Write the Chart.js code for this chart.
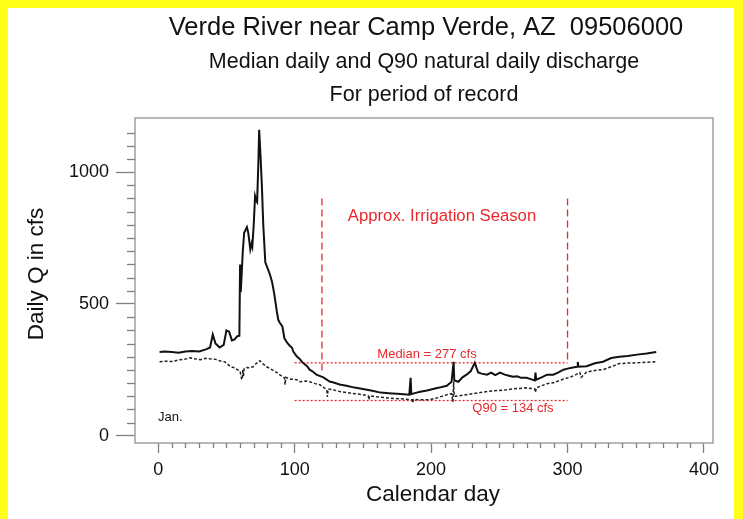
<!DOCTYPE html>
<html><head><meta charset="utf-8">
<script src="https://cdn.jsdelivr.net/npm/chart.js@4.4.1/dist/chart.umd.min.js"></script>
<style>html,body{margin:0;padding:0;background:#fff;} canvas{display:block;}</style>
</head><body>
<canvas id="c" width="743" height="519"></canvas>
<script>
// ---- data ----
const medianDays = [1,5,10,15,20,25,30,35,38,40,42,45,48,50,52,54,56,58,59.5,60,60.5,62,63,65,66,67.5,68.5,69,70,71,72,72.5,73.5,74,75,76,77,78.5,80.5,82,83.5,85,87,88,89,91,92.5,94.5,96.7,98,99,101.5,104,106,109,111,113.5,116,121,126,128,133,138,144,150,156,163,169,175,180,184,185,185.5,188,192,197,201.5,206,211.5,215,216.5,217,220,223,226,229,232,234.5,237,241,244,247,250.5,254,257,260,263,266,270,273,276,276.5,277,281,285,289.5,293,297,300,303,307,307.5,308,314,320,326,332,338,344,351,358,365];
const medianQ = [318,320,318,315,320,322,320,328,335,384,350,335,345,400,395,362,366,378,380,650,545,700,770,791,770,707,730,719,800,909,890,886,1050,1160,1060,947,800,658,631,610,582,540,470,440,430,415,370,353,340,335,320,302,290,277,265,251,243,232,222,205,203,195,190,183,178,172,164,162,160,158,156,220,158,162,167,172,178,183,190,205,281,210,205,222,232,245,277,240,236,232,240,230,240,232,228,224,226,220,220,215,210,240,213,222,232,232,240,251,255,258,262,280,262,264,275,281,295,300,303,308,312,318];
const q90Days = [1,5,10,16,20,23.5,27,31,35,38,42,45,49,53,56,58,60,61,61.5,62,62.5,63,65,67,69.5,72,74.5,77,79.5,83,87,90,92.5,93,93.5,97,101.5,104,108,111,115,118.5,121,123.5,124,124.5,128,133,138,144,150,154,154.5,155,160,167.5,173,180,186,186.5,187,192,199,205,211.5,215,216,216.5,217,221,226,231,236,241,245.5,250,255.5,260,265,270,276,276.5,277,281,285,289.5,294,300,303,306,309,310,314,320,326,332,338,344,351,358,365];
const q90Q = [281,283,282,289,291,296,292,289,294,292,290,285,280,262,258,251,245,218,213,250,225,255,259,258,262,275,285,272,262,252,240,228,220,194,222,215,213,205,208,205,198,194,185,175,148,178,175,168,164,160,156,152,137,152,148,144,142,140,137,125,138,137,137,145,156,160,129,205,150,152,156,160,164,168,171,172,175,178,180,182,178,165,182,190,198,201,210,220,225,232,240,222,242,248,251,262,274,276,277,279,281];
const xTickValues = [0,10,20,30,40,50,60,70,80,90,100,110,120,130,140,150,160,170,180,190,200,210,220,230,240,250,260,270,280,290,300,310,320,330,340,350,360,370,380,390,400];
const xTickLabels = ['0','100','200','300','400'];
const yTickValues = [0,50,100,150,200,250,300,350,400,450,500,550,600,650,700,750,800,850,900,950,1000,1050,1100,1150];
const yTickLabels = ['0','500','1000'];
const irrigationStart = 120, irrigationEnd = 300, irrigationTop = 900;
const irrigationStartBottom = 245;
const medianLevel = 277, q90Level = 134;
const levelFrom = 100, levelTo = 300;
const titleLines = ['Verde River near Camp Verde, AZ  09506000','Median daily and Q90 natural daily discharge','For period of record'];

const FONT = '"Liberation Sans", Arial, sans-serif';
const RED = '#e8282c';

const pts = (xs, ys) => xs.map((x, i) => ({x, y: ys[i]}));

const decor = {
  id: 'decor',
  beforeDraw(chart) {
    const c = chart.ctx;
    c.save();
    c.fillStyle = '#fff';
    c.fillRect(0, 0, chart.width, chart.height);
    c.fillStyle = '#ffff1a';
    c.fillRect(0, 0, chart.width, 8);
    c.fillRect(0, 0, 8, chart.height);
    c.fillRect(chart.width - 9, 0, 9, chart.height);
    c.restore();
  },
  afterDraw(chart) {
    const c = chart.ctx, a = chart.chartArea;
    const xs = chart.scales.x, ys = chart.scales.y;
    c.save();
    // frame
    c.strokeStyle = '#a0a0a0';
    c.lineWidth = 1.5;
    c.strokeRect(a.left, a.top, a.right - a.left, a.bottom - a.top);
    // minor ticks
    c.strokeStyle = '#808080';
    c.lineWidth = 1.3;
    xTickValues.forEach(v => {
      if (v % 100 === 0) return;
      const px = Math.round(xs.getPixelForValue(v)) + 0.5;
      c.beginPath(); c.moveTo(px, a.bottom); c.lineTo(px, a.bottom + 5); c.stroke();
    });
    yTickValues.forEach(v => {
      if (v % 500 === 0) return;
      const py = Math.round(ys.getPixelForValue(v)) + 0.5;
      c.beginPath(); c.moveTo(a.left, py); c.lineTo(a.left - 8, py); c.stroke();
    });
    // titles
    c.fillStyle = '#111';
    c.textAlign = 'center';
    c.textBaseline = 'middle';
    c.font = '25.5px ' + FONT;
    c.fillText(titleLines[0], 426, 28);
    c.font = '21.5px ' + FONT;
    c.fillText(titleLines[1], 424, 62);
    c.fillText(titleLines[2], 424, 95);
    // axis titles
    c.font = '22.5px ' + FONT;
    c.fillText('Calendar day', 433, 495);
    c.save();
    c.translate(37, 274);
    c.rotate(-Math.PI / 2);
    c.fillText('Daily Q in cfs', 0, 0);
    c.restore();
    // annotation texts
    c.fillStyle = RED;
    c.font = '16.7px ' + FONT;
    c.fillText('Approx. Irrigation Season', xs.getPixelForValue(208), 216);
    c.font = '13px ' + FONT;
    c.fillText('Median = 277 cfs', xs.getPixelForValue(197), ys.getPixelForValue(medianLevel) - 8);
    c.fillText('Q90 = 134 cfs', xs.getPixelForValue(260), ys.getPixelForValue(q90Level) + 8);
    c.fillStyle = '#111';
    c.textAlign = 'left';
    c.font = '13px ' + FONT;
    c.fillText('Jan.', 158, 417);
    c.restore();
  }
};

new Chart(document.getElementById('c'), {
  type: 'line',
  data: {
    datasets: [
      {data: pts(medianDays, medianQ), borderColor: '#111', borderWidth: 2, pointRadius: 0, tension: 0},
      {data: pts(q90Days, q90Q), borderColor: '#222', borderWidth: 1.5, borderDash: [3, 2], pointRadius: 0, tension: 0},
      {data: [{x: irrigationStart, y: irrigationTop}, {x: irrigationStart, y: irrigationStartBottom}], borderColor: RED, borderWidth: 1.3, borderDash: [7, 4], pointRadius: 0},
      {data: [{x: irrigationEnd, y: irrigationTop}, {x: irrigationEnd, y: medianLevel}], borderColor: RED, borderWidth: 1.3, borderDash: [7, 4], pointRadius: 0},
      {data: [{x: levelFrom, y: medianLevel}, {x: levelTo, y: medianLevel}], borderColor: RED, borderWidth: 1.3, borderDash: [2, 2], pointRadius: 0},
      {data: [{x: levelFrom, y: q90Level}, {x: levelTo, y: q90Level}], borderColor: RED, borderWidth: 1.3, borderDash: [2, 2], pointRadius: 0}
    ]
  },
  options: {
    responsive: false,
    animation: false,
    devicePixelRatio: 1,
    layout: {padding: {top: 118, right: 30, left: 0, bottom: 0}},
    plugins: {legend: {display: false}, tooltip: {enabled: false}, title: {display: false}},
    scales: {
      x: {
        type: 'linear', min: -17, max: 406.6,
        afterBuildTicks: s => { s.ticks = xTickValues.map(v => ({value: v})); },
        afterFit: s => { s.height = 76; },
        border: {display: false},
        grid: {drawOnChartArea: false, drawTicks: true, tickLength: 10, tickWidth: 1.3,
               tickColor: ctx => (ctx.tick && ctx.tick.value % 100 === 0) ? '#808080' : 'rgba(0,0,0,0)'},
        ticks: {autoSkip: false, maxRotation: 0, padding: 6, color: '#111', font: {family: FONT, size: 18},
                callback: v => xTickLabels.includes(String(v)) ? String(v) : ''}
      },
      y: {
        type: 'linear', min: -27, max: 1205,
        afterBuildTicks: s => { s.ticks = yTickValues.map(v => ({value: v})); },
        afterFit: s => { s.width = 135; },
        border: {display: false},
        grid: {drawOnChartArea: false, drawTicks: true, tickLength: 19, tickWidth: 1.3,
               tickColor: ctx => (ctx.tick && ctx.tick.value % 500 === 0) ? '#808080' : 'rgba(0,0,0,0)'},
        ticks: {autoSkip: false, padding: 7, color: '#111', font: {family: FONT, size: 18},
                callback: v => yTickLabels.includes(String(v)) ? String(v) : ''}
      }
    }
  },
  plugins: [decor]
});
</script>
</body></html>
